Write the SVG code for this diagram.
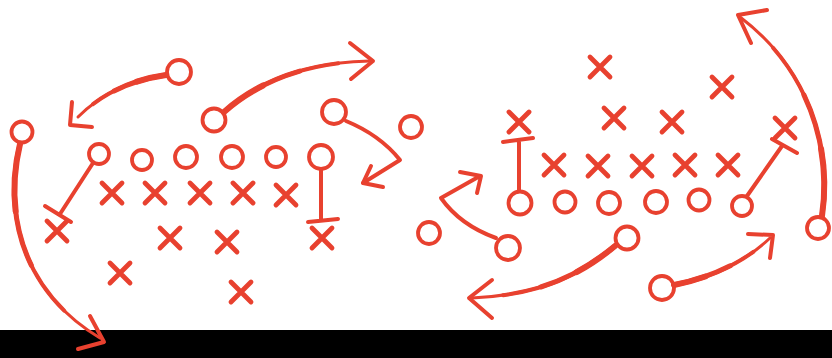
<svg xmlns="http://www.w3.org/2000/svg" width="832" height="358" viewBox="0 0 832 358">
<style>
.c{fill:none;stroke:#E8412F;stroke-width:3.8}
.x{fill:none;stroke:#E8412F;stroke-width:4.8;stroke-linecap:round}
.l{fill:none;stroke:#E8412F;stroke-width:4;stroke-linecap:round;stroke-linejoin:round}
.t{fill:none;stroke:#E8412F;stroke-width:3;stroke-linecap:round;stroke-linejoin:round}
.k1,.k2,.k3{fill:none;stroke:#E8412F;stroke-linecap:round}
.k1{stroke-width:4;stroke-dasharray:80 200}
.k2{stroke-width:5;stroke-dasharray:55 200}
.k3{stroke-width:6;stroke-dasharray:30 200}
</style>
<defs>
<path id="X" d="M-10 -10 L10 10 M10 -10 L-10 10"/>
<path id="a1" d="M20 144 C4 210 20 290 100 338"/>
<path id="a2" d="M166 75 C130 80 100 95 78 117"/>
<path id="a3" d="M224 112 C260 80 310 62 370 61"/>
<path id="a4" d="M615 246 C580 275 540 295 472 298"/>
<path id="a5" d="M674 285 C710 278 745 262 770 238"/>
<path id="a6" d="M822 216 C832 150 810 70 740 17"/>
</defs>
<rect x="0" y="0" width="832" height="358" fill="#fff"/>
<rect id="bar" x="0" y="330" width="832" height="28" fill="#000"/>
<g id="players-left">
<circle id="o1" class="c" cx="22" cy="132" r="10.5"/>
<circle id="o2" class="c" cx="179" cy="72" r="12"/>
<circle id="o3" class="c" cx="214" cy="120" r="11.5"/>
<circle id="o4" class="c" cx="334" cy="112" r="12"/>
<circle id="o5" class="c" cx="411" cy="127" r="11"/>
<circle id="o6" class="c" cx="99" cy="154" r="10"/>
<circle id="o7" class="c" cx="142" cy="160" r="10"/>
<circle id="o8" class="c" cx="186" cy="157" r="11"/>
<circle id="o9" class="c" cx="232" cy="157" r="11"/>
<circle id="o10" class="c" cx="276" cy="157" r="10"/>
<circle id="o11" class="c" cx="321" cy="157" r="12"/>
<use id="x1" href="#X" class="x" x="112" y="193"/>
<use id="x2" href="#X" class="x" x="155" y="193"/>
<use id="x3" href="#X" class="x" x="200" y="193"/>
<use id="x4" href="#X" class="x" x="243" y="193"/>
<use id="x5" href="#X" class="x" x="286" y="195"/>
<use id="x6" href="#X" class="x" x="57" y="231"/>
<use id="x7" href="#X" class="x" x="170" y="238"/>
<use id="x8" href="#X" class="x" x="227" y="242"/>
<use id="x9" href="#X" class="x" x="322" y="238"/>
<use id="x10" href="#X" class="x" x="120" y="273"/>
<use id="x11" href="#X" class="x" x="241" y="292"/>
</g>
<g id="players-right">
<use id="x12" href="#X" class="x" x="600" y="67"/>
<use id="x13" href="#X" class="x" x="722" y="87"/>
<use id="x14" href="#X" class="x" x="519" y="122"/>
<use id="x15" href="#X" class="x" x="614" y="118"/>
<use id="x16" href="#X" class="x" x="672" y="122"/>
<use id="x17" href="#X" class="x" x="785" y="128"/>
<use id="x18" href="#X" class="x" x="554" y="165"/>
<use id="x19" href="#X" class="x" x="598" y="166"/>
<use id="x20" href="#X" class="x" x="642" y="166"/>
<use id="x21" href="#X" class="x" x="685" y="165"/>
<use id="x22" href="#X" class="x" x="728" y="165"/>
<circle id="o12" class="c" cx="520" cy="203" r="11.5"/>
<circle id="o13" class="c" cx="565" cy="202" r="10.5"/>
<circle id="o14" class="c" cx="609" cy="203" r="11"/>
<circle id="o15" class="c" cx="656" cy="202" r="11"/>
<circle id="o16" class="c" cx="699" cy="200" r="10.5"/>
<circle id="o17" class="c" cx="742" cy="206" r="10"/>
<circle id="o18" class="c" cx="429" cy="233" r="11"/>
<circle id="o19" class="c" cx="508" cy="248" r="12"/>
<circle id="o20" class="c" cx="627" cy="238" r="11.5"/>
<circle id="o21" class="c" cx="662" cy="288" r="12"/>
<circle id="o22" class="c" cx="818" cy="228" r="11"/>
</g>
<g id="connectors">
<path class="t" d="M20 144 C4 210 20 290 100 338"/>
<path class="k1" pathLength="100" d="M20 144 C4 210 20 290 100 338"/>
<path class="k2" pathLength="100" d="M20 144 C4 210 20 290 100 338"/>
<path class="k3" pathLength="100" d="M20 144 C4 210 20 290 100 338"/>
<path class="l" d="M90 316 L104 342 L78 349"/>
<path class="t" d="M166 75 C130 80 100 95 78 117"/>
<path class="k1" pathLength="100" d="M166 75 C130 80 100 95 78 117"/>
<path class="k2" pathLength="100" d="M166 75 C130 80 100 95 78 117"/>
<path class="k3" pathLength="100" d="M166 75 C130 80 100 95 78 117"/>
<path class="l" d="M72 102 L70 125 L92 127"/>
<path class="t" d="M224 112 C260 80 310 62 370 61"/>
<path class="k1" pathLength="100" d="M224 112 C260 80 310 62 370 61"/>
<path class="k2" pathLength="100" d="M224 112 C260 80 310 62 370 61"/>
<path class="k3" pathLength="100" d="M224 112 C260 80 310 62 370 61"/>
<path class="l" d="M350 43 L373 61 L351 79"/>
<path class="l" d="M346 121 Q380 135 400 160 L363 183"/>
<path class="l" d="M371 166 L363 183 L383 187"/>
<path class="l" d="M93 163 L60 214 M45 206 L71 222"/>
<path class="l" d="M321 169 L321 220 M308 222 L338 219"/>
<path class="l" d="M519 191 L519 142 M503 142 L533 138"/>
<path class="l" d="M747 196 L782 146 M772 139 L797 153"/>
<path class="l" d="M496 238 Q460 225 441 198 L480 176"/>
<path class="l" d="M460 172 L481 176 L477 193"/>
<path class="t" d="M615 246 C580 275 540 295 472 298"/>
<path class="k1" pathLength="100" d="M615 246 C580 275 540 295 472 298"/>
<path class="k2" pathLength="100" d="M615 246 C580 275 540 295 472 298"/>
<path class="k3" pathLength="100" d="M615 246 C580 275 540 295 472 298"/>
<path class="l" d="M492 280 L469 298 L492 318"/>
<path class="t" d="M674 285 C710 278 745 262 770 238"/>
<path class="k1" pathLength="100" d="M674 285 C710 278 745 262 770 238"/>
<path class="k2" pathLength="100" d="M674 285 C710 278 745 262 770 238"/>
<path class="k3" pathLength="100" d="M674 285 C710 278 745 262 770 238"/>
<path class="l" d="M748 234 L773 235 L770 258"/>
<path class="t" d="M822 216 C832 150 810 70 740 17"/>
<path class="k1" pathLength="100" d="M822 216 C832 150 810 70 740 17"/>
<path class="k2" pathLength="100" d="M822 216 C832 150 810 70 740 17"/>
<path class="k3" pathLength="100" d="M822 216 C832 150 810 70 740 17"/>
<path class="l" d="M767 10 L738 15 L751 43"/>
</g>
</svg>
